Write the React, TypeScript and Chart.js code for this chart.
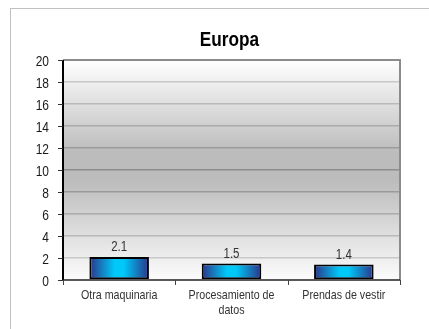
import React, { useEffect, useRef } from "react";
import { Chart, registerables } from "chart.js";

Chart.register(...registerables);

const title = "Europa";
const categories: string[][] = [["Otra maquinaria"], ["Procesamiento de", "datos"], ["Prendas de vestir"]];
const values = [2.1, 1.5, 1.4];
const yMin = 0;
const yMax = 20;
const yStep = 2;
const yTickLabels = ["0", "2", "4", "6", "8", "10", "12", "14", "16", "18", "20"];

const FONT = "'Liberation Sans', Arial, sans-serif";
const BAR_PCT = 0.53;

function narrowText(ctx: any, text: string, x: number, y: number, font: string, color: string, align: string, sx: number) {
  ctx.save();
  ctx.font = font;
  ctx.fillStyle = color;
  ctx.textAlign = align;
  ctx.textBaseline = "alphabetic";
  ctx.translate(x, y);
  ctx.scale(sx, 1);
  ctx.fillText(text, 0, 0);
  ctx.restore();
}

const bgPlugin = {
  id: "plotBg",
  beforeDraw(chart: any) {
    const { ctx, chartArea } = chart;
    if (!chartArea) return;
    const { left, top, right, bottom } = chartArea;
    const g = ctx.createLinearGradient(0, top, 0, bottom);
    g.addColorStop(0, "#ffffff");
    g.addColorStop(0.42, "#bcbcbc");
    g.addColorStop(0.55, "#bcbcbc");
    g.addColorStop(1, "#fcfcfc");
    ctx.save();
    ctx.fillStyle = g;
    ctx.fillRect(left, top, right - left, bottom - top);
    ctx.restore();
  },
  afterDatasetsDraw(chart: any) {
    const { ctx, chartArea } = chart;
    const { left, top, right, bottom } = chartArea;
    ctx.save();
    ctx.strokeStyle = "#8c8c8c";
    ctx.lineWidth = 2;
    ctx.beginPath();
    ctx.moveTo(left, top);
    ctx.lineTo(right, top);
    ctx.lineTo(right, bottom);
    ctx.stroke();
    ctx.strokeStyle = "#000000";
    ctx.lineWidth = 2;
    ctx.beginPath();
    ctx.moveTo(left, top);
    ctx.lineTo(left, bottom + 1);
    ctx.stroke();
    ctx.strokeStyle = "#222222";
    ctx.lineWidth = 1.5;
    ctx.beginPath();
    ctx.moveTo(left, bottom);
    ctx.lineTo(right, bottom);
    ctx.stroke();

    // y ticks
    const ys = chart.scales.y;
    ctx.strokeStyle = "#333333";
    ctx.lineWidth = 1;
    ys.ticks.forEach((t: any, i: number) => {
      const y = Math.round(ys.getPixelForValue(t.value)) + 0.5;
      ctx.beginPath();
      ctx.moveTo(left - 5, y);
      ctx.lineTo(left, y);
      ctx.stroke();
      const lbl = yTickLabels[i] !== undefined ? yTickLabels[i] : String(t.value);
      narrowText(ctx, lbl, 49, y + 5, "15px " + FONT, "#1a1a1a", "right", 0.8);
    });

    // x ticks at category boundaries
    const xs = chart.scales.x;
    const n = categories.length;
    const cw = (right - left) / n;
    ctx.strokeStyle = "#444444";
    for (let i = 0; i <= n; i++) {
      const x = Math.round(left + i * cw) + 0.5;
      ctx.beginPath();
      ctx.moveTo(x, bottom);
      ctx.lineTo(x, bottom + 5);
      ctx.stroke();
    }
    categories.forEach((lines, i) => {
      const cx = xs.getPixelForValue(i);
      lines.forEach((ln, j) => {
        narrowText(ctx, ln, cx, 298.5 + j * 15, "13px " + FONT, "#333333", "center", 0.82);
      });
    });

    // value labels
    const meta = chart.getDatasetMeta(0);
    meta.data.forEach((bar: any, i: number) => {
      const v = chart.data.datasets[0].data[i];
      narrowText(ctx, String(v), bar.x, bar.y - 6, "14px " + FONT, "#333333", "center", 0.82);
    });

    // title
    narrowText(ctx, title, (left + right) / 2 - 2, 45.5, "bold 20px " + FONT, "#000000", "center", 0.86);
    ctx.restore();
  },
};

function barGradient(c: any) {
  const chart = c.chart;
  const xs = chart.scales && chart.scales.x;
  if (!chart.chartArea || !xs) return "#00c8f8";
  const cx = xs.getPixelForValue(c.dataIndex);
  const w = ((chart.chartArea.right - chart.chartArea.left) / categories.length) * BAR_PCT;
  const x0 = cx - w / 2;
  const x1 = cx + w / 2;
  const g = chart.ctx.createLinearGradient(x0, 0, x1, 0);
  g.addColorStop(0, "#2b3488");
  g.addColorStop(0.42, "#00c8f8");
  g.addColorStop(0.58, "#00c8f8");
  g.addColorStop(1, "#2b3488");
  return g;
}

export default function App() {
  const ref = useRef<HTMLCanvasElement>(null);
  useEffect(() => {
    if (!ref.current) return;
    const chart = new Chart(ref.current, {
      type: "bar",
      data: {
        labels: categories.map((c) => c.join(" ")),
        datasets: [
          {
            data: values,
            backgroundColor: barGradient as any,
            borderColor: "#000000",
            borderWidth: 2,
            borderSkipped: false,
            categoryPercentage: BAR_PCT,
            barPercentage: 1,
          },
        ],
      },
      options: {
        responsive: false,
        animation: false,
        events: [],
        layout: { padding: { left: 0, right: 29, top: 60, bottom: 0 } },
        plugins: {
          legend: { display: false },
          tooltip: { enabled: false },
          title: { display: false },
        },
        scales: {
          x: {
            grid: { display: false },
            border: { display: false },
            ticks: { display: false },
            afterFit: (s: any) => {
              s.height = 49;
            },
          },
          y: {
            min: yMin,
            max: yMax,
            grid: {
              color: (c: any) => {
                const v = c.tick ? c.tick.value : 0;
                if (v === yMin || v === yMax) return "rgba(0,0,0,0)";
                const d = Math.abs(v - 10) / 10;
                const l = Math.round(140 + d * 75);
                return `rgb(${l},${l},${l})`;
              },
              lineWidth: 1.5,
              drawTicks: false,
            },
            border: { display: false },
            ticks: { stepSize: yStep, display: false },
            afterFit: (s: any) => {
              s.width = 63;
            },
          },
        },
      },
      plugins: [bgPlugin],
    });
    return () => chart.destroy();
  }, []);

  return (
    <div style={{ position: "absolute", left: 0, top: 0, width: 429, height: 329, background: "#ffffff", overflow: "hidden" }}>
      <div
        style={{
          position: "absolute",
          left: 10,
          top: 8,
          width: 500,
          height: 400,
          borderLeft: "1px solid #c0c0c0",
          borderTop: "1px solid #c0c0c0",
        }}
      />
      <canvas ref={ref} width={429} height={329} style={{ position: "absolute", left: 0, top: 0 }} />
    </div>
  );
}
